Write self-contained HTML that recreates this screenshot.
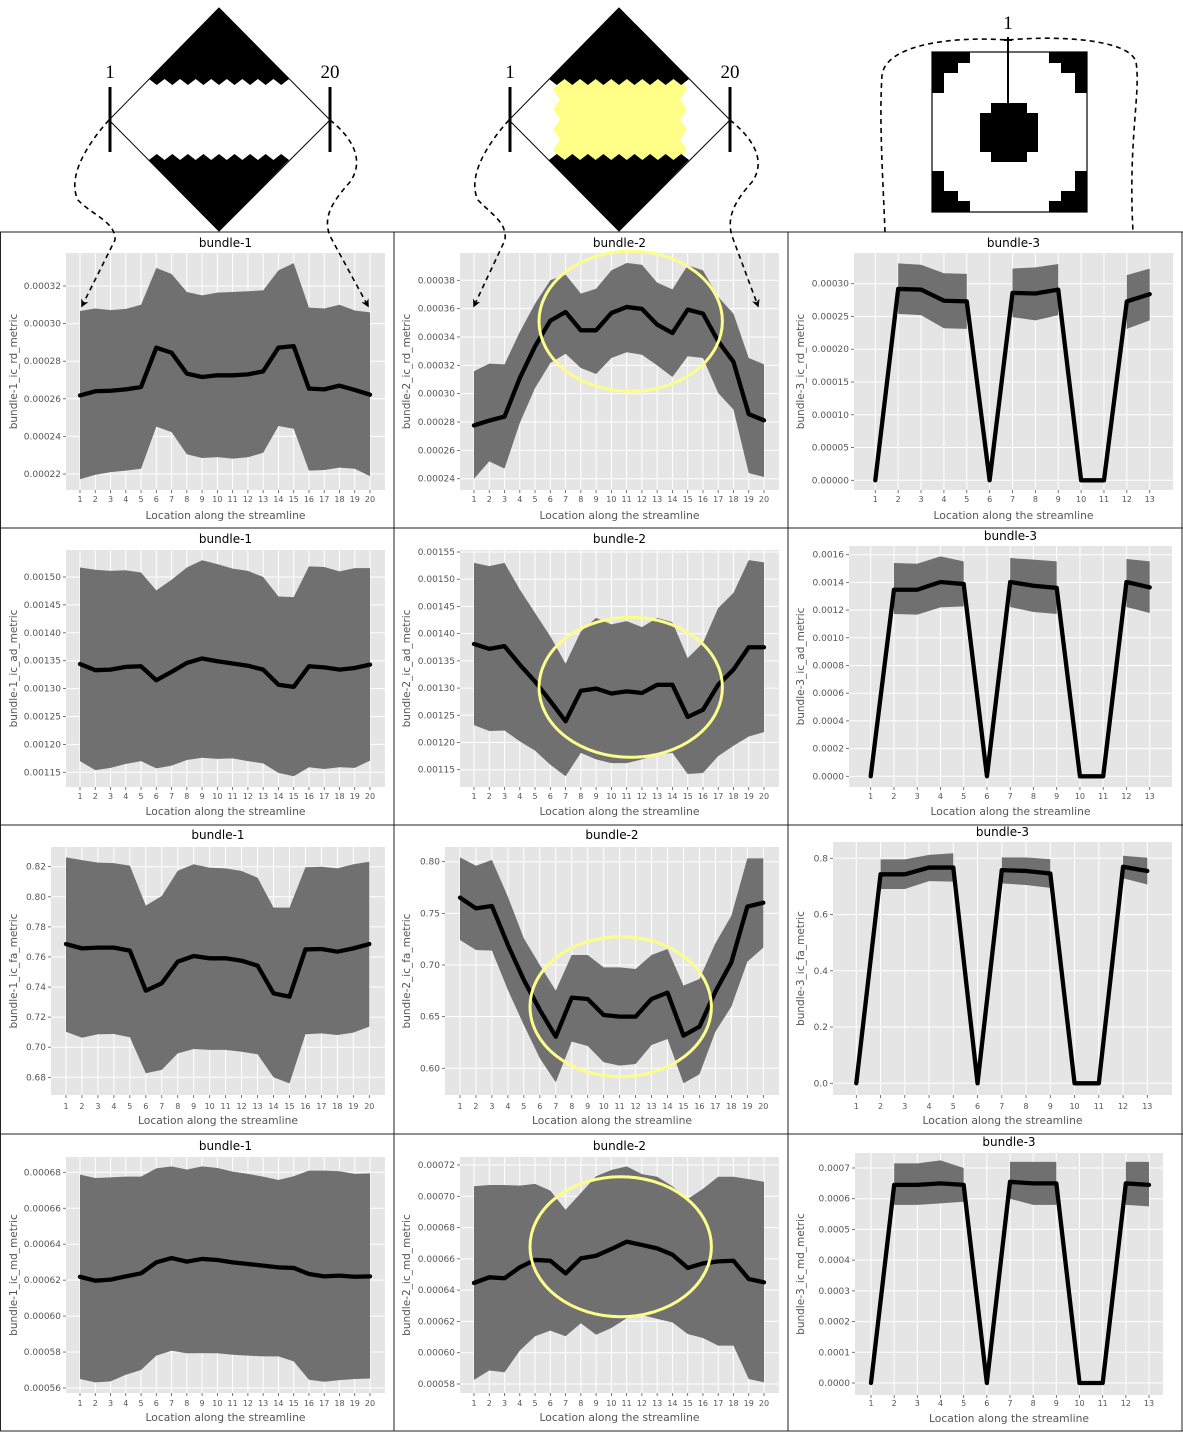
<!DOCTYPE html>
<html><head><meta charset="utf-8"><title>bundle profiles</title>
<style>
html,body{margin:0;padding:0;background:#fff;}
svg{display:block;font-family:"DejaVu Sans","Liberation Sans",sans-serif;}
</style></head>
<body>
<svg id="fig" width="1183" height="1432" viewBox="0 0 1183 1432" xmlns="http://www.w3.org/2000/svg">
<defs>
<marker id="arr" viewBox="0 0 10 10" refX="8" refY="5" markerWidth="5" markerHeight="5" orient="auto"><path d="M0,0 L10,5 L0,10 L3,5 z" fill="#000"/></marker>
</defs>
<g id="panels"></g>
<g id="diagrams"></g>
</svg>
<script>
// ---- data (values scaled: see tick arrays for matching units) ----
const xs20=[1,2,3,4,5,6,7,8,9,10,11,12,13,14,15,16,17,18,19,20];
const xs13=[1,2,3,4,5,6,7,8,9,10,11,12,13];
const m1=[261.8,264,264.3,265,266.3,287.2,284.5,273.4,271.6,272.5,272.5,273,274.6,287.2,288,265.4,265,267,264.7,262.2];
const u1=[306.7,308,307.2,307.8,310,329.6,326.4,316.8,315,316.5,316.8,317.2,317.7,328.3,332.2,308.5,308,310,307,306];
const l1=[217.2,219.6,221,221.8,222.8,245.2,242.3,230.5,228.5,229,228.2,228.9,231.3,245.5,244.1,221.8,222.1,223.4,222.8,218.9];
const m2=[277.6,281,283.8,311,333.4,351.5,357.6,344.7,344.7,356.9,361.2,359.8,348.7,342.8,359.3,356.5,337,322.4,285.6,281.2];
const u2=[315.8,321.2,320.7,343.5,363.5,380,384,370.6,374,387,392.2,391,378.4,373.6,390.6,387,368.2,356.5,325.2,320.7];
const l2=[240,252.2,247.1,279.3,304,321.6,328.2,318.1,313.9,325.2,329.2,327.5,320,311.8,326.4,325.2,300.5,288.7,244,241.2];
const m3=[0,29.2,29.1,27.4,27.3,0,28.6,28.5,29.1,0,0,27.3,28.4];
const u3=[null,33.1,32.9,31.6,31.5,null,32.3,32.5,33,null,null,31.3,32.3];
const l3=[null,25.4,25.2,23.2,23.1,null,24.9,24.4,25.2,null,null,23.1,24.4];
const m4=[134.4,133.3,133.4,133.9,134,131.5,133,134.6,135.4,134.9,134.5,134.1,133.4,130.7,130.3,134,133.8,133.4,133.7,134.3];
const u4=[151.7,151.3,151.1,151.2,150.8,147.6,149.5,151.7,153,152.3,151.5,151.1,150,146.5,146.4,151.9,151.8,151,151.6,151.6];
const l4=[117,115.4,115.8,116.5,117,115.7,116.2,117.2,117.6,117.4,117.5,117,116.6,114.9,114.3,115.9,115.6,115.9,115.8,117.1];
const m5=[138.1,137.2,137.7,134.3,131.2,127.6,123.9,129.5,129.9,129,129.4,129.1,130.6,130.6,124.7,126,130.6,133.4,137.5,137.5];
const u5=[153,152.4,153,148.1,143.8,139.5,134.5,140.4,142.9,141.7,142.3,141.2,142.9,142.1,135.5,138.3,144.7,147.5,153.5,153.1];
const l5=[123.2,122.1,122.2,120.2,118.5,115.9,113.8,118.1,116.9,116.2,116.2,116.9,117.8,118.1,114.2,114.4,117.5,119.4,121.1,121.9];
const m6=[0,13.47,13.47,14.03,13.88,0,14.03,13.76,13.6,0,0,14.03,13.64];
const u6=[null,15.4,15.35,15.88,15.52,null,15.76,15.64,15.52,null,null,15.69,15.52];
const l6=[null,11.72,11.67,12.2,12.27,null,12.22,11.86,11.72,null,null,12.22,11.79];
const m7=[76.86,76.57,76.62,76.62,76.42,73.76,74.25,75.69,76.06,75.91,75.91,75.75,75.42,73.58,73.36,76.5,76.53,76.35,76.57,76.86];
const u7=[82.62,82.44,82.27,82.24,82.07,79.41,80.05,81.73,82.16,81.93,81.89,81.71,81.27,79.28,79.28,81.96,82,81.89,82.16,82.33];
const l7=[71.03,70.63,70.86,70.88,70.66,68.27,68.49,69.59,69.88,69.82,69.82,69.7,69.53,68,67.6,70.86,70.92,70.81,70.97,71.37];
const m8=[76.52,75.48,75.71,71.94,68.55,65.65,63.06,66.84,66.71,65.16,65,65,66.71,67.32,63.16,64.03,67.42,70.26,75.65,76.03];
const u8=[80.42,79.61,80.16,76.61,72.58,70,67.52,70.97,70.97,69.77,69.77,69.61,70.97,71.55,68,68.65,72.1,74.77,80.32,80.32];
const l8=[72.42,71.45,71.39,67.58,64.19,60.97,58.65,62.58,62.16,60.58,60.26,60.42,62.26,62.84,58.55,59.42,63.55,65.97,70.32,71.68];
const m9=[0,74.3,74.3,76.7,76.7,0,75.8,75.5,74.6,0,0,77,75.5];
const u9=[null,79.6,79.6,81.2,81.8,null,80.3,80.3,79.7,null,null,80.9,80.2];
const l9=[null,69.1,69.1,71.9,71.7,null,71.1,70.5,69.5,null,null,72.9,70.7];
const m10=[62.19,61.97,62.03,62.21,62.38,62.99,63.23,63.03,63.18,63.12,62.99,62.9,62.81,62.71,62.68,62.34,62.21,62.25,62.19,62.21];
const u10=[67.87,67.68,67.72,67.76,67.76,68.22,68.33,68.15,68.33,68.24,68.04,67.91,67.76,67.57,67.78,68.09,68.09,68.06,67.91,67.94];
const l10=[56.5,56.31,56.37,56.74,57,57.8,58.07,57.93,57.94,57.93,57.85,57.8,57.76,57.76,57.48,56.46,56.35,56.44,56.5,56.53];
const m11=[64.46,64.82,64.76,65.46,65.93,65.88,65.07,66.03,66.2,66.63,67.1,66.89,66.67,66.27,65.42,65.71,65.84,65.88,64.71,64.5];
const u11=[70.64,70.72,70.72,70.68,70.79,70.36,69.14,70.21,71.28,71.68,71.91,71.42,71.25,70.64,69.83,70.47,71.25,71.25,71.1,70.93];
const l11=[58.26,58.86,58.75,60.13,61.05,61.41,61.05,61.88,61.15,61.58,62.2,62.41,62.16,61.94,61.2,60.94,60.45,60.45,58.32,58.11];
const m12=[0,6.45,6.45,6.5,6.45,0,6.55,6.5,6.5,0,0,6.5,6.45];
const u12=[null,7.15,7.15,7.25,7.0,null,7.2,7.2,7.2,null,null,7.2,7.2];
const l12=[null,5.8,5.8,5.85,5.9,null,6.0,5.8,5.8,null,null,5.8,5.75];
// tick values and labels
const tv1=[220,240,260,280,300,320];
const tl1=["0.00022","0.00024","0.00026","0.00028","0.00030","0.00032"];
const tv2=[240,260,280,300,320,340,360,380];
const tl2=["0.00024","0.00026","0.00028","0.00030","0.00032","0.00034","0.00036","0.00038"];
const tv3=[0,5,10,15,20,25,30];
const tl3=["0.00000","0.00005","0.00010","0.00015","0.00020","0.00025","0.00030"];
const tv4=[115,120,125,130,135,140,145,150];
const tl4=["0.00115","0.00120","0.00125","0.00130","0.00135","0.00140","0.00145","0.00150"];
const tv5=[115,120,125,130,135,140,145,150,155];
const tl5=["0.00115","0.00120","0.00125","0.00130","0.00135","0.00140","0.00145","0.00150","0.00155"];
const tv6=[0,2,4,6,8,10,12,14,16];
const tl6=["0.0000","0.0002","0.0004","0.0006","0.0008","0.0010","0.0012","0.0014","0.0016"];
const tv7=[68,70,72,74,76,78,80,82];
const tl7=["0.68","0.70","0.72","0.74","0.76","0.78","0.80","0.82"];
const tv8=[60,65,70,75,80];
const tl8=["0.60","0.65","0.70","0.75","0.80"];
const tv9=[0,20,40,60,80];
const tl9=["0.0","0.2","0.4","0.6","0.8"];
const tv10=[56,58,60,62,64,66,68];
const tl10=["0.00056","0.00058","0.00060","0.00062","0.00064","0.00066","0.00068"];
const tv11=[58,60,62,64,66,68,70,72];
const tl11=["0.00058","0.00060","0.00062","0.00064","0.00066","0.00068","0.00070","0.00072"];
const tv12=[0,1,2,3,4,5,6,7];
const tl12=["0.0000","0.0001","0.0002","0.0003","0.0004","0.0005","0.0006","0.0007"];

const NS="http://www.w3.org/2000/svg";
function mk(parent,tag,attrs,text){const e=document.createElementNS(NS,tag);for(const k in attrs)e.setAttribute(k,attrs[k]);if(text!==undefined)e.textContent=text;parent.appendChild(e);return e;}

// layout (pixels) per panel
const panels=[
 {id:'p1',pl:[66,385,253,490],xa:80,xb:370,cal:[320,286,220,474],title:'bundle-1',yl:'bundle-1_ic_rd_metric',xv:xs20,m:m1,u:u1,l:l1,tv:tv1,tl:tl1,ty:247,tk:502,xl:519,yx:13},
 {id:'p2',pl:[460,779,253,490],xa:474,xb:764,cal:[380,280.3,240,478.7],title:'bundle-2',yl:'bundle-2_ic_rd_metric',xv:xs20,m:m2,u:u2,l:l2,tv:tv2,tl:tl2,ty:247,tk:502,xl:519,yx:406},
 {id:'p3',pl:[854,1173,253,490],xa:875.3,xb:1149.7,cal:[30,283.7,0,480.3],title:'bundle-3',yl:'bundle-3_ic_rd_metric',xv:xs13,m:m3,u:u3,l:l3,tv:tv3,tl:tl3,ty:247,tk:502,xl:519,yx:800},
 {id:'p4',pl:[66,385,550,787],xa:80,xb:370,cal:[150,577,115,772.3],title:'bundle-1',yl:'bundle-1_ic_ad_metric',xv:xs20,m:m4,u:u4,l:l4,tv:tv4,tl:tl4,ty:543,tk:799,xl:815,yx:13},
 {id:'p5',pl:[460,779,550,787],xa:474,xb:764,cal:[155,552,115,769.7],title:'bundle-2',yl:'bundle-2_ic_ad_metric',xv:xs20,m:m5,u:u5,l:l5,tv:tv5,tl:tl5,ty:543,tk:799,xl:815,yx:406},
 {id:'p6',pl:[849,1172,546,787],xa:870.7,xb:1149.7,cal:[16,554.7,0,776.3],title:'bundle-3',yl:'bundle-3_ic_ad_metric',xv:xs13,m:m6,u:u6,l:l6,tv:tv6,tl:tl6,ty:540,tk:799,xl:815,yx:800},
 {id:'p7',pl:[51,385,847,1095],xa:66,xb:369.3,cal:[82,866.7,68,1077.3],title:'bundle-1',yl:'bundle-1_ic_fa_metric',xv:xs20,m:m7,u:u7,l:l7,tv:tv7,tl:tl7,ty:839,tk:1109,xl:1124,yx:13},
 {id:'p8',pl:[445,779,847,1095],xa:460,xb:763.3,cal:[80,861.7,60,1068.3],title:'bundle-2',yl:'bundle-2_ic_fa_metric',xv:xs20,m:m8,u:u8,l:l8,tv:tv8,tl:tl8,ty:839,tk:1109,xl:1124,yx:406},
 {id:'p9',pl:[833,1172,842,1095],xa:856.3,xb:1147.3,cal:[80,858.3,0,1083.3],title:'bundle-3',yl:'bundle-3_ic_fa_metric',xv:xs13,m:m9,u:u9,l:l9,tv:tv9,tl:tl9,ty:836,tk:1109,xl:1124,yx:800},
 {id:'p10',pl:[66,385,1157,1393],xa:80,xb:370,cal:[68,1172.3,56,1388],title:'bundle-1',yl:'bundle-1_ic_md_metric',xv:xs20,m:m10,u:u10,l:l10,tv:tv10,tl:tl10,ty:1150,tk:1406,xl:1421,yx:13},
 {id:'p11',pl:[460,779,1157,1393],xa:474,xb:764,cal:[72,1165,58,1384],title:'bundle-2',yl:'bundle-2_ic_md_metric',xv:xs20,m:m11,u:u11,l:l11,tv:tv11,tl:tl11,ty:1150,tk:1406,xl:1421,yx:406},
 {id:'p12',pl:[855,1163,1153,1395],xa:871,xb:1149,cal:[7,1168,0,1383],title:'bundle-3',yl:'bundle-3_ic_md_metric',xv:xs13,m:m12,u:u12,l:l12,tv:tv12,tl:tl12,ty:1146,tk:1406,xl:1422,yx:800}
];

const root=document.getElementById('panels');
panels.forEach(p=>{
  const g=mk(root,'g',{id:p.id});
  
  
  const n=p.xv.length;
  const X=i=>p.xa+(p.xv[i]-p.xv[0])*(p.xb-p.xa)/(p.xv[n-1]-p.xv[0]);
  const Y=v=>p.cal[1]+(v-p.cal[0])*(p.cal[3]-p.cal[1])/(p.cal[2]-p.cal[0]);
  const [x0,x1,y0,y1]=p.pl;
  const bg=mk(g,'rect',{x:x0,y:y0,width:x1-x0,height:y1-y0,fill:'#e5e5e5'});
  
  
  p.tv.forEach((v,k)=>{
    const gl=mk(g,'line',{x1:x0,x2:x1,y1:Y(v),y2:Y(v),stroke:'#fff','stroke-width':1});
    
    
    mk(g,'line',{x1:x0-3,x2:x0,y1:Y(v),y2:Y(v),stroke:'#555','stroke-width':0.8});
    const t=mk(g,'text',{x:x0-5,y:Y(v)+3,'text-anchor':'end','font-size':9,fill:'#555'},p.tl[k]);
    
    
  });
  for(let i=0;i<n;i++){
    const gl=mk(g,'line',{x1:X(i),x2:X(i),y1:y0,y2:y1,stroke:'#fff','stroke-width':1});
    
    
    mk(g,'line',{x1:X(i),x2:X(i),y1:y1,y2:y1+3,stroke:'#555','stroke-width':0.8});
    const t=mk(g,'text',{x:X(i),y:p.tk,'text-anchor':'middle','font-size':8,fill:'#555'},String(p.xv[i]));
    
    
  }
  let run=[];
  const flush=()=>{
    if(run.length>1){
      const pts=run.map(i=>X(i)+','+Y(p.u[i])).concat(run.slice().reverse().map(i=>X(i)+','+Y(p.l[i])));
      const b=mk(g,'polygon',{points:pts.join(' '),fill:'#707070'});
      
      
    }
    run=[];
  };
  for(let i=0;i<n;i++){ if(p.u[i]===null||p.l[i]===null) flush(); else run.push(i); }
  flush();
  const ln=mk(g,'polyline',{points:p.m.map((v,i)=>X(i)+','+Y(v)).join(' '),fill:'none',stroke:'#000','stroke-width':4.3,'stroke-linejoin':'round','stroke-linecap':'round'});
  
  
  const tt=mk(g,'text',{x:(x0+x1)/2,y:p.ty,'text-anchor':'middle','font-size':12,fill:'#000'},p.title);
  
  
  const xt=mk(g,'text',{x:(x0+x1)/2,y:p.xl,'text-anchor':'middle','font-size':10.5,fill:'#555',textLength:160,lengthAdjust:'spacingAndGlyphs'},'Location along the streamline');
  
  
  const yc=(y0+y1)/2;
  const yt=mk(g,'text',{x:p.yx,y:yc,'text-anchor':'middle','font-size':10.5,fill:'#555',transform:'rotate(-90 '+p.yx+' '+yc+')',dy:4},p.yl);
  
  
});
[0.5,394,788,1182].forEach(x=>{const l=mk(root,'line',{x1:x,x2:x,y1:232,y2:1431,stroke:'#222','stroke-width':1});});
[232,528,825,1134,1431].forEach(y=>{const l=mk(root,'line',{x1:0,x2:1183,y1:y,y2:y,stroke:'#222','stroke-width':1});});

[[630.7,321.3,91.7,70],[630.7,687.3,91.7,70],[620.7,1006.7,90.7,70],[620.7,1246.7,90.7,70]].forEach(e=>{
  const el=mk(root,'ellipse',{cx:e[0],cy:e[1],rx:e[2],ry:e[3],fill:'none',stroke:'#fdfd8c','stroke-width':3});
  
  
});

const dg=document.getElementById('diagrams');
function zig(xa,xb,y,amp,teeth){let s='';const w=(xb-xa)/teeth;for(let k=0;k<teeth;k++){s+=' '+(xa+k*w+w/2)+','+(y+amp)+' '+(xa+(k+1)*w)+','+y;}return s;}
[0,400].forEach((o,idx)=>{
  const g=mk(dg,'g',{});
  
  
  if(idx===1){
    let pts=[];const L=557,R=683;
    for(let k=0;k<=8;k++){pts.push((L+(k%2?-4:3))+','+(79+k*10.1));}
    for(let k=8;k>=0;k--){pts.push((R+(k%2?4:-3))+','+(79+k*10.1));}
    mk(g,'polygon',{points:pts.join(' '),fill:'#ffff88'});
  }
  mk(g,'polygon',{points:(219+o)+',8 '+(149+o)+',79'+zig(149+o,289+o,79,6,9),fill:'#000'});
  mk(g,'polygon',{points:(219+o)+',231 '+(149+o)+',160'+zig(149+o,289+o,160,-6,9),fill:'#000'});
  mk(g,'polygon',{points:(219+o)+',8 '+(330+o)+',120 '+(219+o)+',231 '+(109+o)+',120',fill:'none',stroke:'#000','stroke-width':1});
  mk(g,'line',{x1:110+o,x2:110+o,y1:87,y2:152,stroke:'#000','stroke-width':3});
  mk(g,'line',{x1:330+o,x2:330+o,y1:87,y2:152,stroke:'#000','stroke-width':3});
  const a=mk(g,'text',{x:110+o,y:78,'text-anchor':'middle','font-size':19,'font-family':'Liberation Serif, serif'},'1');
  
  
  const b=mk(g,'text',{x:330+o,y:78,'text-anchor':'middle','font-size':19,'font-family':'Liberation Serif, serif'},'20');
  
  
});
const dashes=[
 'M109,120 C82,150 68,180 78,200 C92,215 116,222 115,240 L82,306',
 'M330,120 C355,140 364,162 350,182 C334,200 322,216 330,236 L368,306',
 'M509,120 C482,150 468,180 478,200 C492,215 507,222 505,240 L474,306',
 'M730,120 C755,140 766,162 752,182 C736,200 726,216 732,236 L758,306'
];
dashes.forEach(d=>{const p=mk(dg,'path',{d:d,fill:'none',stroke:'#000','stroke-width':1.6,'stroke-dasharray':'5,4','marker-end':'url(#arr)'});});
const g3=mk(dg,'g',{});


mk(g3,'path',{d:'M885,232 C883,180 879,120 882,75 C886,45 950,36 1008,40 C1062,35 1130,40 1136,62 C1141,92 1128,140 1133,232',fill:'none',stroke:'#000','stroke-width':1.6,'stroke-dasharray':'5,4'});
mk(g3,'rect',{x:932,y:52,width:155,height:160,fill:'#fff',stroke:'#000','stroke-width':1.2});
const corner='932,52 970,52 970,63 958,63 958,73 944,73 944,93 932,93';
['','translate(2019,0) scale(-1,1)','translate(0,264) scale(1,-1)','translate(2019,264) scale(-1,-1)'].forEach(tr=>{
  mk(g3,'polygon',{points:corner,fill:'#000',transform:tr});
});
mk(g3,'polygon',{points:'991,103 1027,103 1027,113 1038,113 1038,152 1027,152 1027,162 991,162 991,152 980,152 980,113 991,113',fill:'#000'});
mk(g3,'line',{x1:1008,x2:1008,y1:37,y2:103,stroke:'#000','stroke-width':2});
mk(g3,'line',{x1:1004,x2:1012,y1:40,y2:40,stroke:'#000','stroke-width':2});
const t3=mk(g3,'text',{x:1008,y:29,'text-anchor':'middle','font-size':19,'font-family':'Liberation Serif, serif'},'1');


</script>
</body></html>
